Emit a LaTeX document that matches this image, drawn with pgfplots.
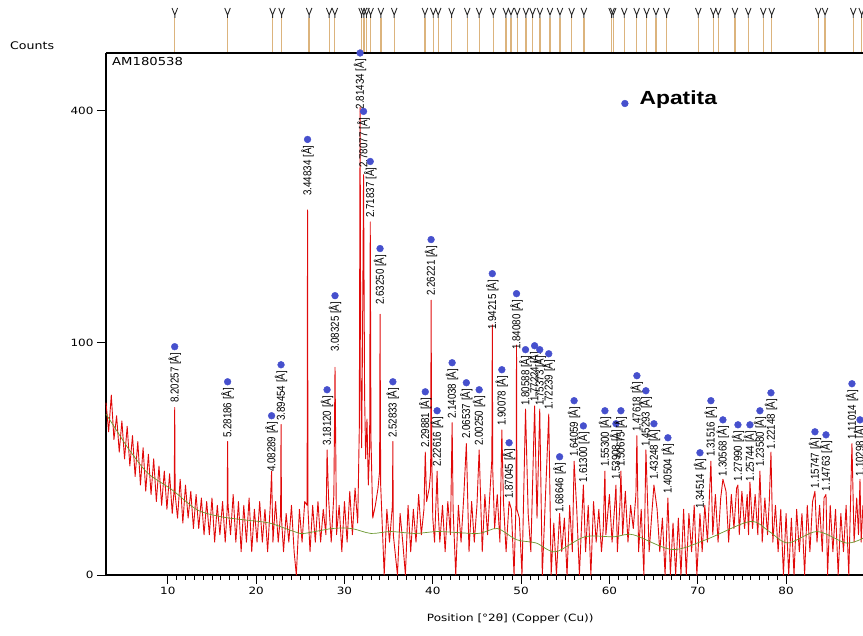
\documentclass[border=0pt]{standalone}
\usepackage{fontspec}
\setmainfont{DejaVu Sans}[FakeStretch=1.2]
\newfontfamily\lblfont{Liberation Sans}[FakeStretch=0.85]
\newfontfamily\legfont{Liberation Sans}[FakeStretch=1.2]
\usepackage{pgfplots}
\pgfplotsset{compat=1.18}

\definecolor{xrdred}{RGB}{225,10,10}
\definecolor{bggreen}{RGB}{105,150,45}
\definecolor{dotblue}{RGB}{70,80,205}
\definecolor{reftan}{RGB}{220,180,125}
\definecolor{forkgray}{RGB}{40,40,40}

% reference-pattern marker: small fork on top of each stick
\pgfdeclareplotmark{fork}{%
  \pgfpathmoveto{\pgfqpoint{-2.8pt}{10pt}}%
  \pgfpathlineto{\pgfqpoint{0pt}{3pt}}%
  \pgfpathlineto{\pgfqpoint{2.8pt}{10pt}}%
  \pgfpathmoveto{\pgfqpoint{0pt}{3pt}}%
  \pgfpathlineto{\pgfqpoint{0pt}{0pt}}%
  \pgfusepathqstroke}

\begin{document}
\begin{tikzpicture}
\useasboundingbox (-106pt,-61pt) rectangle (757pt,575pt);

% reference stick pattern above the plot
\begin{axis}[
  at={(0pt,522pt)}, anchor=south west,
  scale only axis, width=757pt, height=47pt,
  xmin=3, xmax=88.71, ymin=0, ymax=1,
  hide axis, clip=false,
]
\addplot[ycomb, draw=reftan, line width=1.3pt, mark=fork,
  mark options={draw=forkgray, line width=0.9pt}] coordinates {
  (10.79,0.745) (16.76,0.745) (21.86,0.745) (22.88,0.745) (26.0,0.745)
  (28.27,0.745) (28.91,0.745) (31.94,0.745) (32.2,0.745) (32.5,0.745)
  (32.96,0.745) (34.12,0.745) (35.63,0.745) (39.11,0.745) (40.05,0.745)
  (40.61,0.745) (42.13,0.745) (43.9,0.745) (45.25,0.745) (46.84,0.745)
  (48.28,0.745) (48.85,0.745) (49.56,0.745) (50.54,0.745) (51.3,0.745)
  (52.13,0.745) (53.27,0.745) (54.4,0.745) (55.72,0.745) (57.11,0.745)
  (60.25,0.745) (60.43,0.745) (61.68,0.745) (63.08,0.745) (64.21,0.745)
  (65.27,0.745) (66.48,0.745) (70.06,0.745) (71.76,0.745) (72.32,0.745)
  (74.21,0.745) (75.72,0.745) (77.42,0.745) (78.37,0.745) (83.65,0.745)
  (84.41,0.745) (87.61,0.745) (88.56,0.745)
};
\end{axis}

\begin{axis}[
  at={(0pt,0pt)}, anchor=south west,
  scale only axis, width=757pt, height=522pt,
  xmin=3, xmax=88.71, ymin=0, ymax=505,
  y coord trafo/.code={\pgfmathparse{sqrt(#1)}},
  y coord inv trafo/.code={\pgfmathparse{(#1)^2}},
  ytick={0,100,400}, yticklabels={0,100,400},
  xtick={10,20,...,80}, minor x tick num=9,
  tick align=outside, major tick length=9pt, minor tick length=5pt,
  axis x line*=bottom, axis y line*=left,
  axis line style={line width=1.6pt},
  every tick/.style={black, line width=0.8pt},
  tick label style={font=\fontsize{10}{12}\selectfont},
  /pgf/number format/assume math mode=true,
  xlabel={Position [°2θ] (Copper (Cu))},
  xlabel style={font=\fontsize{10}{12}\selectfont, at={(ticklabel cs:0.534)}, anchor=north, yshift=-12pt},
  clip=false,
]
% measured pattern
\addplot[xrdred, line width=0.9pt, line join=round] coordinates {
(3.0,55) (3.3,38) (3.6,60) (3.9,34) (4.2,47) (4.5,28) (4.8,44) (5.1,25) (5.4,41) (5.7,22)
(6.0,36) (6.3,18) (6.6,33) (6.9,15) (7.2,30) (7.5,13) (7.8,27) (8.1,12) (8.4,25) (8.7,10)
(9.0,22) (9.3,9) (9.6,20) (9.9,8) (10.2,19) (10.5,7) (10.73,14) (10.78,52) (10.83,12) (11.1,6)
(11.4,17) (11.7,5) (12.0,15) (12.3,6) (12.6,13) (12.9,4) (13.2,12) (13.5,4) (13.8,11) (14.1,3)
(14.4,10) (14.7,3) (15.0,11) (15.3,2) (15.6,9) (15.9,3) (16.2,10) (16.5,2) (16.72,8) (16.77,33)
(16.82,9) (17.1,3) (17.4,12) (17.7,2) (18.0,10) (18.3,1) (18.6,9) (18.9,2) (19.2,11) (19.5,1)
(19.8,8) (20.1,2) (20.4,10) (20.7,2) (21.0,8) (21.3,1) (21.6,9) (21.75,20) (21.9,2) (22.2,10)
(22.5,2) (22.77,7) (22.82,42) (22.87,6) (23.1,1) (23.4,7) (23.7,2) (24.0,9) (24.3,1) (24.55,0)
(24.9,8) (25.2,2) (25.5,10) (25.77,9) (25.82,247) (25.87,8) (26.1,1) (26.4,9) (26.7,2) (27.0,10)
(27.3,2) (27.6,8) (27.9,3) (28.03,29) (28.2,11) (28.5,2) (28.8,12) (28.93,80) (29.1,3) (29.4,9)
(29.7,1) (30.0,10) (30.3,2) (30.6,13) (30.9,3) (31.2,14) (31.5,5) (31.68,40) (31.77,405) (31.85,70)
(31.95,30) (32.05,110) (32.16,297) (32.28,60) (32.4,25) (32.55,45) (32.7,15) (32.85,30) (32.92,231) (33.0,35)
(33.2,6) (33.5,9) (33.8,14) (33.98,20) (34.03,126) (34.1,15) (34.5,0) (34.8,8) (35.1,2) (35.43,9)
(35.48,33) (35.53,3) (36.0,0) (36.3,7) (36.6,2) (36.9,0) (37.2,9) (37.5,1) (37.8,8) (38.1,2)
(38.4,12) (38.7,3) (39.0,8) (39.15,28) (39.3,10) (39.6,14) (39.76,20) (39.81,140) (39.87,30) (40.0,6)
(40.2,2) (40.49,20) (40.6,8) (40.8,2) (41.1,9) (41.4,1) (41.7,10) (42.0,3) (42.19,43) (42.3,8)
(42.6,0) (42.9,9) (43.2,2) (43.5,11) (43.80,32) (44.1,1) (44.4,10) (44.7,2) (45.0,9) (45.25,29)
(45.6,1) (45.9,12) (46.2,3) (46.5,14) (46.69,25) (46.74,116) (46.79,20) (47.0,4) (47.3,12) (47.6,2)
(47.82,39) (48.0,10) (48.3,1) (48.64,10) (48.9,8) (49.2,0) (49.43,10) (49.48,98) (49.53,8) (49.8,6)
(50.1,0) (50.50,51) (50.8,7) (51.1,1) (51.53,53) (51.8,6) (52.11,51) (52.4,0) (52.7,8) (53.13,48)
(53.4,0) (53.7,5) (54.0,0) (54.36,7) (54.6,1) (54.9,6) (55.2,0) (55.5,9) (55.8,1) (56.00,24)
(56.3,8) (56.6,0) (56.9,7) (57.05,15) (57.3,1) (57.6,9) (57.9,0) (58.2,10) (58.5,2) (58.8,8)
(59.1,1) (59.3,4) (59.49,20) (59.6,3) (60.0,12) (60.3,2) (60.6,9) (60.74,15) (60.9,1) (61.2,10)
(61.30,20) (61.5,3) (61.8,13) (62.1,2) (62.4,9) (62.7,4) (63.0,12) (63.11,36) (63.3,1) (63.6,8)
(63.9,0) (64.13,29) (64.5,1) (64.8,7) (65.04,15) (65.4,8) (65.7,1) (66.0,6) (66.3,0) (66.62,11)
(66.9,0) (67.2,5) (67.5,0) (67.8,6) (68.1,0) (68.4,8) (68.7,0) (69.0,7) (69.3,1) (69.6,9)
(69.9,0) (70.25,7) (70.5,1) (70.8,9) (71.1,2) (71.49,24) (71.7,3) (72.0,12) (72.3,2) (72.6,11)
(72.85,17) (73.2,13) (73.5,2) (73.8,12) (74.1,4) (74.4,14) (74.55,15) (74.7,3) (75.0,13) (75.3,4)
(75.6,12) (75.75,3) (75.91,16) (76.2,4) (76.5,12) (76.8,3) (77.04,20) (77.3,2) (77.6,11) (77.9,3)
(78.1,10) (78.29,28) (78.5,2) (78.8,9) (79.1,1) (79.4,8) (79.7,0) (80.0,7) (80.3,0) (80.6,6)
(80.9,0) (81.2,8) (81.5,1) (81.8,7) (82.1,0) (82.4,9) (82.7,1) (83.0,10) (83.27,13) (83.5,2)
(83.8,9) (84.1,1) (84.3,11) (84.52,12) (84.7,0) (85.0,9) (85.3,1) (85.6,8) (85.9,0) (86.2,7)
(86.5,1) (86.8,9) (87.1,0) (87.3,10) (87.46,32) (87.7,2) (88.0,11) (88.2,3) (88.37,17) (88.5,2)
(88.7,9)
};
% background
\addplot[bggreen, line width=0.7pt, smooth] coordinates {
(3.0,48) (3.9,41) (5,33) (6,27) (7.8,19) (10.5,13.4) (13.3,7.9) (16,6.3) (18.8,5.6) (21.5,5.0)
(24.3,3.5) (25.4,3.2) (28.6,4.0) (30.8,4.0) (33,3.2) (35.2,3.5) (38,3.2) (40.7,3.5) (45.1,3.2) (47.3,4.0)
(49.5,2.3) (51.7,1.9) (53.9,1.0) (57.2,2.7) (60.5,2.7) (62.7,3.0) (67.1,1.2) (70.9,2.3) (75.9,5.3) (78.1,3.5)
(80.2,1.9) (83.5,3.5) (86.8,1.9) (88.7,2.5)
};
% apatite peak markers with d-spacings
\addplot[only marks, mark=*, mark size=3.4pt, color=dotblue,
  point meta=explicit symbolic,
  nodes near coords={\pgfplotspointmeta\ [Å]},
  every node near coord/.style={font=\lblfont\fontsize{11.5}{11.5}\selectfont, text=black,
    inner sep=0pt, yshift=-6pt, rotate=90, anchor=east},
] coordinates {
(10.777,96.6) [8.20257] (16.77,69.2) [5.28186] (21.75,47.0) [4.08289] (22.82,81.9) [3.89454]
(25.82,351.6) [3.44834] (28.03,63.6) [3.18120] (28.93,144.6) [3.08325] (31.77,505) [2.81434]
(32.16,398.3) [2.78077] (32.92,316.9) [2.71837] (34.03,197.5) [2.63250] (35.48,69.2) [2.52833]
(39.15,62.2) [2.29881] (39.81,208.5) [2.26221] (40.49,50.0) [2.22616] (42.19,83.5) [2.14038]
(43.80,68.5) [2.06537] (45.25,63.6) [2.00250] (46.74,168.3) [1.94215] (47.82,78.1) [1.90078]
(48.64,32.4) [1.87045] (49.48,146.7) [1.84080] (50.50,94.1) [1.80588] (51.53,97.4) [1.77224]
(52.11,94.1) [1.75373] (53.13,90.7) [1.72239] (54.36,25.9) [1.68646] (56.00,56.3) [1.64059]
(57.05,41.2) [1.61300] (59.49,50.0) [1.55300] (60.74,42.4) [1.53908] (61.30,50.0) [1.50675]
(63.11,73.6) [1.47618] (64.13,62.9) [1.45293] (65.04,42.4) [1.43248] (66.62,34.9) [1.40504]
(70.25,27.7) [1.34514] (71.49,56.3) [1.31516] (72.85,44.6) [1.30568] (74.55,41.8) [1.27990]
(75.91,41.8) [1.25744] (77.04,50.0) [1.23580] (78.29,61.5) [1.22148] (83.27,38.0) [1.15747]
(84.52,36.4) [1.14763] (87.46,67.8) [1.11014] (88.37,44.6) [1.10298]
};
% legend
\addplot[only marks, mark=*, mark size=3.4pt, color=dotblue] coordinates {(61.75,412)};
\node[anchor=base west, inner sep=0pt, font=\legfont\bfseries\fontsize{19}{22}\selectfont]
  at (axis cs:63.4,410) {Apatita};

\draw[line width=1.2pt] (rel axis cs:0,1) -- (rel axis cs:1,1);
\node[anchor=north west, inner sep=0pt, xshift=6pt, yshift=-4pt, font=\fontsize{11}{13}\selectfont]
  at (rel axis cs:0,1) {AM180538};
\node[anchor=west, inner sep=0pt, xshift=-96pt, yshift=7pt, font=\fontsize{10.5}{12}\selectfont]
  at (rel axis cs:0,1) {Counts};
\end{axis}
\end{tikzpicture}
\end{document}
